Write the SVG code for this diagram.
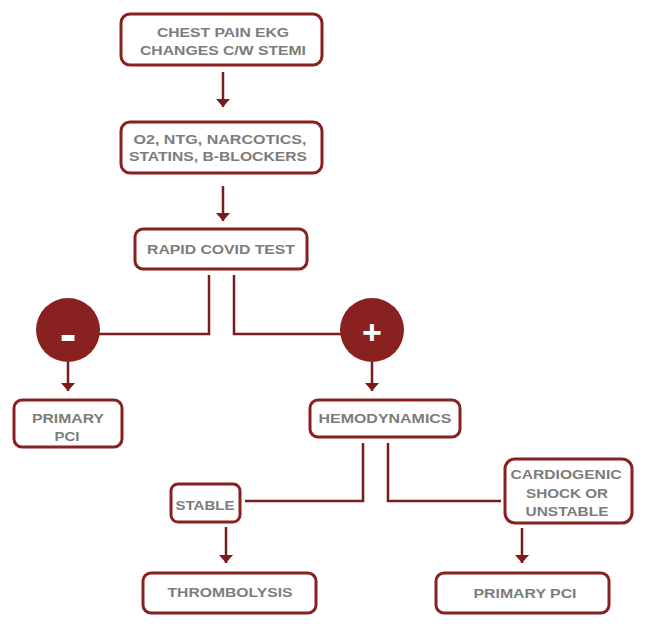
<svg xmlns="http://www.w3.org/2000/svg" width="650" height="628" viewBox="0 0 650 628">
<style>
.box{fill:#fff;stroke:#8a2121;stroke-width:3}
.t{font-family:"Liberation Sans",Arial,sans-serif;font-weight:bold;font-size:13.5px;fill:#7c7c7c;text-anchor:middle}
.ln{fill:none;stroke:#7a1c1c;stroke-width:2.5}
.sig{font-family:"Liberation Sans",Arial,sans-serif;font-weight:bold;fill:#fff;text-anchor:middle}
</style>
<defs>
<marker id="ah" viewBox="0 0 8 14" refX="8" refY="7" markerWidth="8" markerHeight="14" markerUnits="userSpaceOnUse" orient="auto">
<path d="M0,0 L8,7 L0,14 Z" fill="#7a1c1c"/>
</marker>
</defs>
<rect width="650" height="628" fill="#fff"/>
<g id="connectors">
<line class="ln" x1="223" y1="72" x2="223" y2="107" marker-end="url(#ah)"/>
<line class="ln" x1="223" y1="186" x2="223" y2="221" marker-end="url(#ah)"/>
<polyline class="ln" points="209,275 209,334 99,334"/>
<polyline class="ln" points="234,275 234,334 342,334"/>
<line class="ln" x1="68" y1="362" x2="68" y2="391" marker-end="url(#ah)"/>
<line class="ln" x1="372" y1="362" x2="372" y2="391" marker-end="url(#ah)"/>
<polyline class="ln" points="363,443 363,501 245,501"/>
<polyline class="ln" points="388,443 388,501 501,501"/>
<line class="ln" x1="226" y1="527" x2="226" y2="563" marker-end="url(#ah)"/>
<line class="ln" x1="522" y1="528" x2="522" y2="563" marker-end="url(#ah)"/>
</g>
<g id="n1"><rect class="box" x="121" y="14" width="201" height="51" rx="9"/>
<text class="t" x="223" y="37" textLength="132" lengthAdjust="spacingAndGlyphs">CHEST PAIN EKG</text>
<text class="t" x="223" y="55" textLength="166" lengthAdjust="spacingAndGlyphs">CHANGES C/W STEMI</text></g>
<g id="n2"><rect class="box" x="121" y="122" width="201" height="51" rx="9"/>
<text class="t" x="220" y="144" textLength="173" lengthAdjust="spacingAndGlyphs">O2, NTG, NARCOTICS,</text>
<text class="t" x="218" y="161" textLength="178" lengthAdjust="spacingAndGlyphs">STATINS, B-BLOCKERS</text></g>
<g id="n3"><rect class="box" x="135" y="229" width="172" height="40" rx="8"/>
<text class="t" x="221" y="254" textLength="148" lengthAdjust="spacingAndGlyphs">RAPID COVID TEST</text></g>
<g id="neg"><circle cx="68" cy="330" r="32" fill="#8a2121"/>
<text class="sig" x="68" y="351" font-size="50">-</text></g>
<g id="pos"><circle cx="372" cy="330" r="32" fill="#8a2121"/>
<text class="sig" x="372" y="344" font-size="34">+</text></g>
<g id="n4"><rect class="box" x="14" y="400" width="108" height="47" rx="8"/>
<text class="t" x="68" y="423" textLength="72" lengthAdjust="spacingAndGlyphs">PRIMARY</text>
<text class="t" x="67" y="441" textLength="25" lengthAdjust="spacingAndGlyphs">PCI</text></g>
<g id="n5"><rect class="box" x="310" y="400" width="150" height="37" rx="8"/>
<text class="t" x="385" y="423" textLength="133" lengthAdjust="spacingAndGlyphs">HEMODYNAMICS</text></g>
<g id="n6"><rect class="box" x="171" y="484" width="69" height="38" rx="7"/>
<text class="t" x="205" y="510" textLength="59" lengthAdjust="spacingAndGlyphs">STABLE</text></g>
<g id="n7"><rect class="box" x="505" y="459" width="127" height="64" rx="10"/>
<text class="t" x="566" y="479" textLength="111" lengthAdjust="spacingAndGlyphs">CARDIOGENIC</text>
<text class="t" x="567" y="498" textLength="82" lengthAdjust="spacingAndGlyphs">SHOCK OR</text>
<text class="t" x="567" y="516" textLength="83" lengthAdjust="spacingAndGlyphs">UNSTABLE</text></g>
<g id="n8"><rect class="box" x="143" y="573" width="173" height="40" rx="8"/>
<text class="t" x="230" y="597" textLength="125" lengthAdjust="spacingAndGlyphs">THROMBOLYSIS</text></g>
<g id="n9"><rect class="box" x="436" y="573" width="173" height="40" rx="8"/>
<text class="t" x="525" y="598" textLength="103" lengthAdjust="spacingAndGlyphs">PRIMARY PCI</text></g>
</svg>
